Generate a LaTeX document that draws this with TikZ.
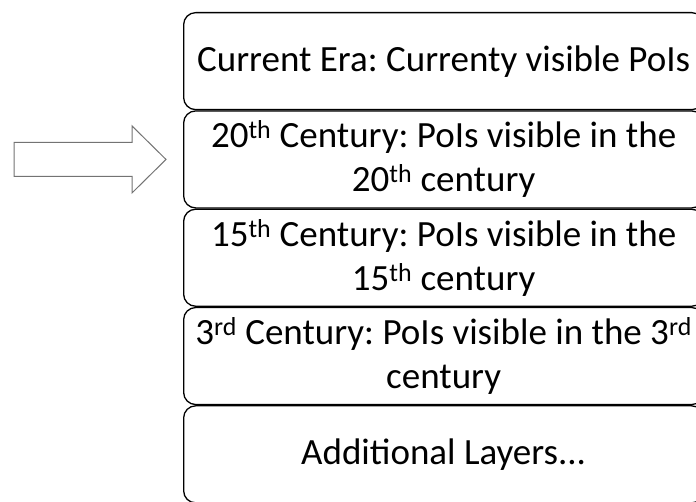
\documentclass[tikz,border=0pt]{standalone}
\usepackage{fontspec}
\setmainfont{Carlito}
\frenchspacing
\usetikzlibrary{positioning}
\usetikzlibrary{calc}
\tikzstyle{layer} = [draw, rectangle, rounded corners = 12pt, line width = 1.3pt, minimum height = 97pt, minimum width = 520pt, align = center, font = \fontsize{37}{44}\selectfont]
\tikzstyle{hollow} = [draw = black!55, line width = 1pt, fill = white]

\begin{document}
\begin{tikzpicture}
		
			\useasboundingbox (0,0) rectangle (696pt,502pt);
			
			% Stack of layers
			\node[layer, anchor = north west] (era) at (183pt,490pt) {Current Era: Currenty visible PoIs};
			\node[layer, below = 0 cm of era] (cent20) {20\textsuperscript{th} Century: PoIs visible in the\\20\textsuperscript{th} century};
			\node[layer, below = 0 cm of cent20] (cent15) {15\textsuperscript{th} Century: PoIs visible in the\\15\textsuperscript{th} century};
			\node[layer, below = 0 cm of cent15] (cent3) {3\textsuperscript{rd} Century: PoIs visible in the 3\textsuperscript{rd}\\century};
			\node[layer, below = 0 cm of cent3] (more) {Additional Layers...};
			
			% Hollow arrow pointing at the 20th century layer
			\coordinate (tip) at ($(cent20.west) + (-17pt,0)$);
			\draw[hollow] (tip) -- ++(-34pt,33.5pt) -- ++(0,-16.5pt) -- ++(-118pt,0) -- ++(0,-34pt) -- ++(118pt,0) -- ++(0,-16.5pt) -- cycle;
		
		\end{tikzpicture}
\end{document}
